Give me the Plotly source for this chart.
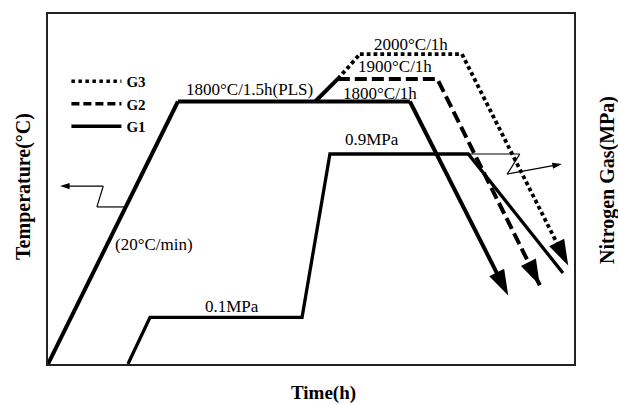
import plotly.graph_objects as go

# ---- schematic data (time in arbitrary hours, temperature in degC, gas pressure in MPa) ----
g1_time = [0, 2.47, 6.88, 8.75]
g1_temp = [0, 1800, 1800, 470]
branch_time = [5.08, 5.51]
branch_temp = [1800, 1955]
g2_time = [5.51, 7.40, 9.35]
g2_temp = [1955, 1955, 540]
g3_time = [5.51, 5.93, 7.87, 9.89]
g3_temp = [1955, 2125, 2125, 675]
gas_time = [1.52, 1.94, 4.83, 5.36, 7.99, 9.79]
gas_mpa = [0, 0.2, 0.2, 0.9, 0.9, 0.39]

temp_pointer_time = [1.48, 0.93, 1.05, 0.23]
temp_pointer_temp = [1077, 1077, 1220, 1220]
gas_pointer_time = [7.99, 8.97, 8.73, 9.77]
gas_pointer_mpa = [0.9, 0.9, 0.814, 0.857]

temp_labels = ["1800°C/1.5h(PLS)", "2000°C/1h", "1900°C/1h", "1800°C/1h", "(20°C/min)"]
temp_label_time = [3.84, 6.90, 6.60, 6.31, 2.02]
temp_label_temp = [1882, 2189, 2039, 1855, 818]
gas_labels = ["0.9MPa", "0.1MPa"]
gas_label_time = [6.16, 3.50]
gas_label_mpa = [0.963, 0.247]

FONT = "Liberation Serif"
BLACK = "#000000"
HEAD = 27


def tip_sizes(n, size):
    return [0] * (n - 1) + [size]


def arrow_marker(n, size):
    return dict(symbol="arrow", angleref="previous", color=BLACK, opacity=1,
                size=tip_sizes(n, size), line=dict(width=0))


fig = go.Figure()

# gas pressure curve (right axis)
fig.add_trace(go.Scatter(x=gas_time, y=gas_mpa, yaxis="y2", mode="lines",
                         line=dict(color=BLACK, width=3.3), showlegend=False))
fig.add_trace(go.Scatter(x=gas_pointer_time, y=gas_pointer_mpa, yaxis="y2", mode="lines+markers",
                         line=dict(color=BLACK, width=1.2),
                         marker=arrow_marker(len(gas_pointer_time), 10), showlegend=False))

# temperature curves
fig.add_trace(go.Scatter(x=g1_time, y=g1_temp, mode="lines+markers",
                         line=dict(color=BLACK, width=4),
                         marker=arrow_marker(len(g1_time), HEAD), showlegend=False))
fig.add_trace(go.Scatter(x=branch_time, y=branch_temp, mode="lines",
                         line=dict(color=BLACK, width=4), showlegend=False))
fig.add_trace(go.Scatter(x=g2_time, y=g2_temp, mode="lines+markers",
                         line=dict(color=BLACK, width=4, dash="12px,5px"),
                         marker=arrow_marker(len(g2_time), HEAD), showlegend=False))
fig.add_trace(go.Scatter(x=g3_time, y=g3_temp, mode="lines+markers",
                         line=dict(color=BLACK, width=3.8, dash="3.8px,3px"),
                         marker=arrow_marker(len(g3_time), HEAD), showlegend=False))
fig.add_trace(go.Scatter(x=temp_pointer_time, y=temp_pointer_temp, mode="lines+markers",
                         line=dict(color=BLACK, width=1.2),
                         marker=arrow_marker(len(temp_pointer_time), 10), showlegend=False))

# legend entries
fig.add_trace(go.Scatter(x=[None], y=[None], mode="lines", name="<b>G1</b>",
                         line=dict(color=BLACK, width=3.5)))
fig.add_trace(go.Scatter(x=[None], y=[None], mode="lines", name="<b>G2</b>",
                         line=dict(color=BLACK, width=3.5, dash="8px,4px")))
fig.add_trace(go.Scatter(x=[None], y=[None], mode="lines", name="<b>G3</b>",
                         line=dict(color=BLACK, width=3.5, dash="3.5px,3.5px")))

annotations = []
for txt, tx, ty in zip(temp_labels, temp_label_time, temp_label_temp):
    annotations.append(dict(x=tx, y=ty, xref="x", yref="y", text=txt, showarrow=False,
                            xanchor="center", yanchor="middle",
                            font=dict(family=FONT, size=17, color=BLACK)))
for txt, tx, ty in zip(gas_labels, gas_label_time, gas_label_mpa):
    annotations.append(dict(x=tx, y=ty, xref="x", yref="y2", text=txt, showarrow=False,
                            xanchor="center", yanchor="middle",
                            font=dict(family=FONT, size=17, color=BLACK)))

title_font = dict(family=FONT, size=20, color=BLACK)
annotations += [
    dict(x=-0.0456, y=0.506, xref="paper", yref="paper", text="<b>Temperature(°C)</b>",
         textangle=-90, showarrow=False, xanchor="center", yanchor="middle", font=title_font),
    dict(x=1.0627, y=0.5256, xref="paper", yref="paper", text="<b>Nitrogen Gas(MPa)</b>",
         textangle=-90, showarrow=False, xanchor="center", yanchor="middle", font=title_font),
    dict(x=0.523, y=-0.082, xref="paper", yref="paper", text="<b>Time(h)</b>",
         showarrow=False, xanchor="center", yanchor="middle",
         font=dict(family=FONT, size=19, color=BLACK)),
]

axis_common = dict(showgrid=False, zeroline=False, showticklabels=False, ticks="")
fig.update_layout(
    width=618, height=405,
    margin=dict(l=48, r=44, t=12, b=41),
    paper_bgcolor="white", plot_bgcolor="white",
    font=dict(family=FONT, color=BLACK),
    xaxis=dict(range=[0, 10], showline=True, mirror=True, linecolor="#222", linewidth=1.5,
               **axis_common),
    yaxis=dict(range=[0, 2400], showline=True, mirror=True, linecolor="#222", linewidth=1.5,
               **axis_common),
    yaxis2=dict(range=[0, 1.5], overlaying="y", side="right", showline=False, **axis_common),
    showlegend=True,
    legend=dict(x=0.035, y=0.854, xanchor="left", yanchor="top", traceorder="reversed",
                bgcolor="rgba(0,0,0,0)", borderwidth=0, itemwidth=50, tracegroupgap=0,
                font=dict(family=FONT, size=15, color=BLACK)),
    annotations=annotations,
)

fig.write_html("out.html")
